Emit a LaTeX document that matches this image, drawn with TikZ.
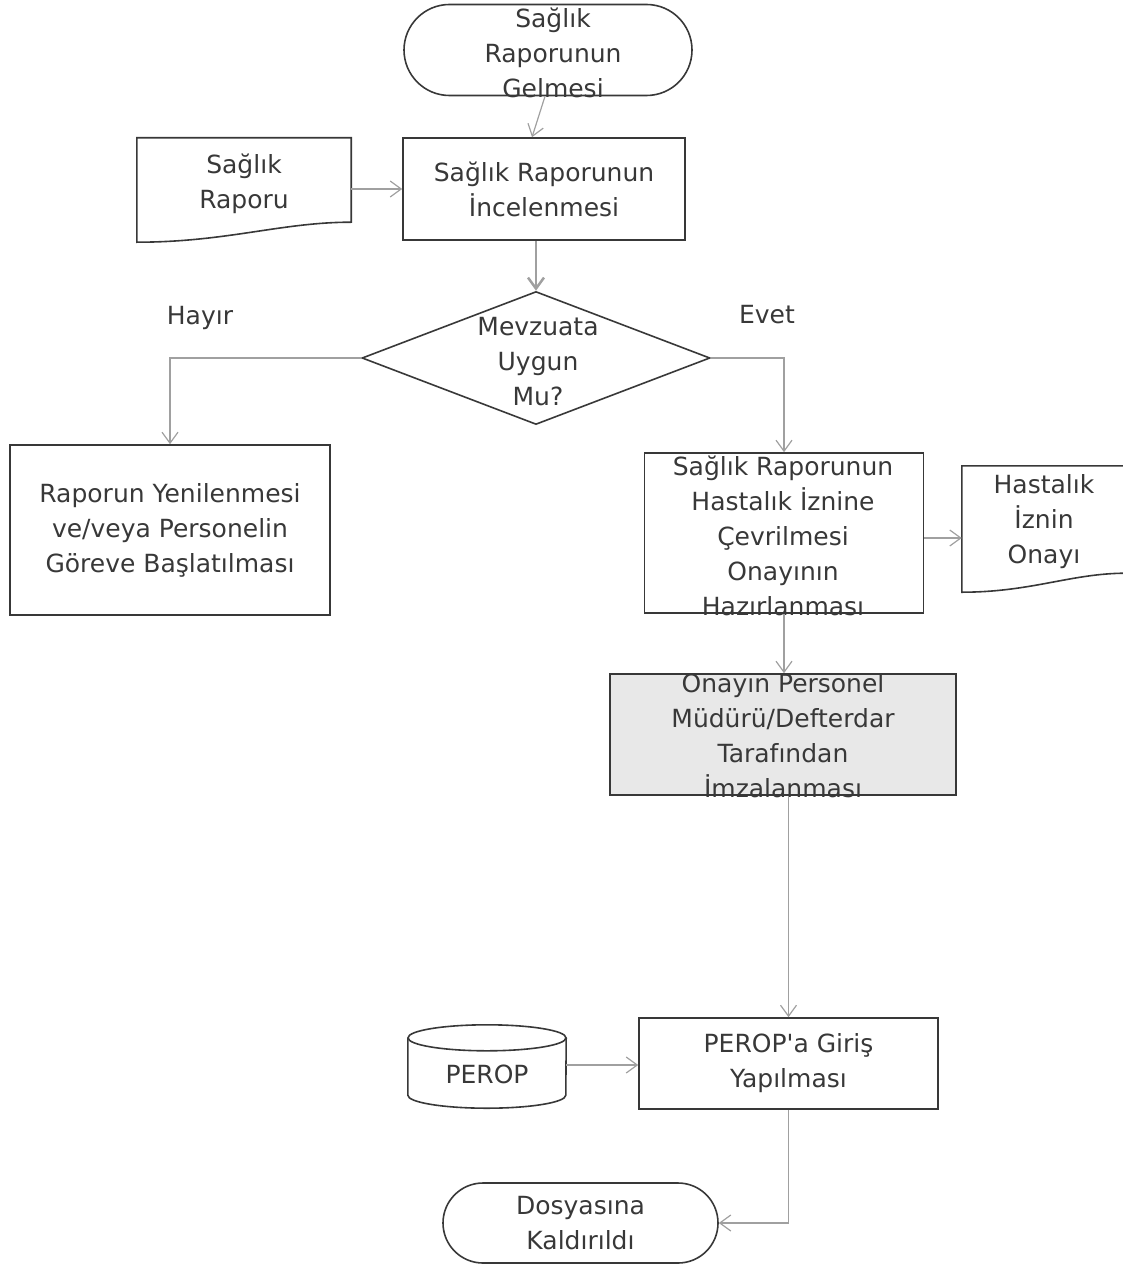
\documentclass[tikz,border=0pt]{standalone}
\usepackage{fontspec}
\newfontfamily\flowfont{DejaVu Sans}
\usetikzlibrary{arrows.meta,shapes.geometric,shapes.misc}
\definecolor{framegray}{HTML}{383838}
\definecolor{textgray}{HTML}{383838}
\definecolor{linkgray}{HTML}{A0A0A0}
\definecolor{signfill}{HTML}{E8E8E8}
\newcommand{\flowsize}{\flowfont\fontsize{25}{35}\selectfont}
\begin{document}
\begin{tikzpicture}[x=1pt,y=-1pt,
    shapeline/.style={draw=framegray,line width=1.6pt,inner sep=0pt},
    flowtext/.style={align=center,text=textgray,inner sep=0pt,font=\flowsize},
    procbox/.style={shapeline,rectangle,flowtext},
    plainbox/.style={rectangle,flowtext},
    terminal/.style={shapeline,rounded rectangle,flowtext},
    flowlink/.style={draw=linkgray,line width=1.2pt,-{Straight Barb[length=11pt,width=16pt]}}]
 \useasboundingbox (0,0) rectangle (1122,1265);
 \node[terminal,minimum width=288pt,minimum height=91pt] (start) at (548,50) {};
 \node[flowtext] (startT) at (553,53) {Sağlık\\Raporunun\\Gelmesi};
 \node[procbox,minimum width=282pt,minimum height=102pt] (inc) at (544,189)
    {Sağlık Raporunun\\İncelenmesi};
 \node[plainbox,minimum width=214pt,minimum height=92pt] (rap) at (244,184)
    {Sağlık\\Raporu};
 \draw[shapeline] (rap.north west) -- (rap.north east) -- ([yshift=8pt]rap.south east)
    .. controls ([xshift=-70pt,yshift=8pt]rap.south east) and ([xshift=90pt,yshift=-12pt]rap.south west)
    .. ([yshift=-12pt]rap.south west) -- cycle;
 \node[shapeline,diamond,minimum width=348pt,minimum height=133pt] (dia) at (536,358) {};
 \node[flowtext] (diaT) at (538,362) {Mevzuata\\Uygun\\Mu?};
 \node[flowtext] (hayir) at (200,318) {Hayır};
 \node[flowtext] (evet) at (767,315) {Evet};
 \node[procbox,minimum width=320pt,minimum height=170pt] (yen) at (170,530)
    {Raporun Yenilenmesi\\ve/veya Personelin\\Göreve Başlatılması};
 \node[shapeline,rectangle,minimum width=279pt,minimum height=160pt] (hast) at (784,533) {};
 \node[flowtext] (hastT) at (783,536)
    {Sağlık Raporunun\\Hastalık İznine\\Çevrilmesi\\Onayının\\Hazırlanması};
 \node[plainbox,minimum width=164pt,minimum height=112pt] (izin) at (1044,522)
    {Hastalık\\İznin\\Onayı};
 \draw[shapeline] (izin.north west) -- (izin.north east) -- ([yshift=5pt]izin.south east)
    .. controls ([xshift=-55pt,yshift=5pt]izin.south east) and ([xshift=70pt,yshift=-14pt]izin.south west)
    .. ([yshift=-14pt]izin.south west) -- cycle;
 \node[shapeline,rectangle,fill=signfill,minimum width=346pt,minimum height=121pt] (imza)
    at (783,734.5) {};
 \node[flowtext] (imzaT) at (783,736)
    {Onayın Personel\\Müdürü/Defterdar\\Tarafından\\İmzalanması};
 \node[procbox,minimum width=299pt,minimum height=91pt] (perop) at (788.5,1063.5)
    {PEROP\textquotesingle a Giriş\\Yapılması};
 \node[plainbox,minimum width=158pt,minimum height=98pt] (db) at (487,1074) {PEROP};
 \draw[shapeline] ([yshift=-13pt]db.north west) -- ([yshift=28pt]db.south west)
    arc[start angle=180,end angle=360,x radius=79pt,y radius=13pt]
    -- ([yshift=-13pt]db.north east);
 \draw[shapeline] ([yshift=-13pt]db.north) ellipse [x radius=79pt,y radius=13pt];
 \node[terminal,minimum width=275pt,minimum height=80pt] (son) at (580.5,1223)
    {Dosyasına\\Kaldırıldı};
 \draw[flowlink] ([xshift=-3pt]start.south) -- ([xshift=-12pt]inc.north);
 \draw[flowlink] ([yshift=-5pt]rap.east) -- ([yshift=-5pt]rap.east -| inc.west);
 \draw[flowlink,line width=2.5pt] (inc.south -| dia.north) -- (dia.north);
 \draw[flowlink] (dia.west) -| (yen.north);
 \draw[flowlink] (dia.east) -| (hast.north);
 \draw[flowlink] ([yshift=-5pt]hast.east) -- ([yshift=-5pt]hast.east -| izin.west);
 \draw[flowlink] (hast.south) -- (hast.south |- imza.north);
 \draw[flowlink] (imza.south -| perop.north) -- (perop.north);
 \draw[flowlink] ([yshift=9pt]db.east) -- ([yshift=9pt]db.east -| perop.west);
 \draw[flowlink] (perop.south) |- (son.east);
\end{tikzpicture}
\end{document}
